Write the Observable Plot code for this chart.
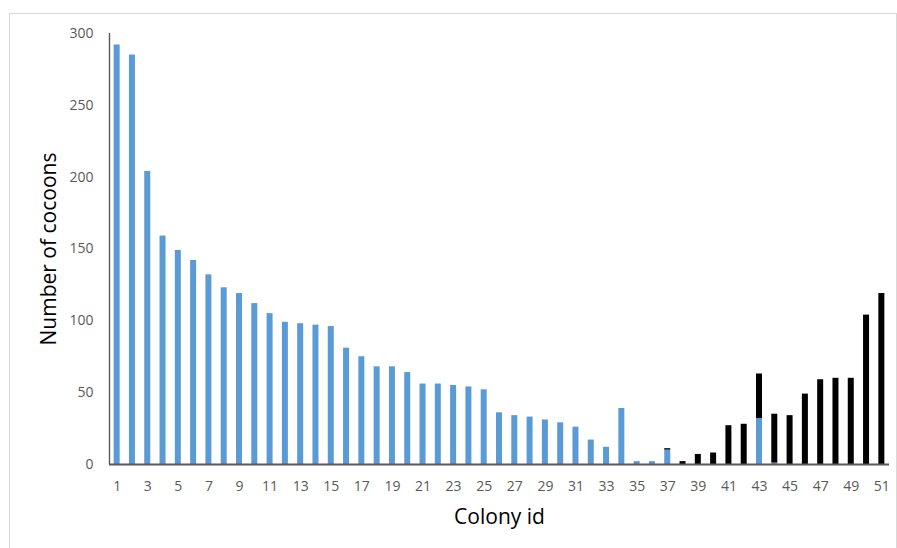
<!DOCTYPE html>
<html>
<head>
<meta charset="utf-8">
<script src="https://cdn.jsdelivr.net/npm/d3@7"></script>
<script src="https://cdn.jsdelivr.net/npm/@observablehq/plot@0.6"></script>
<style>
  html, body { margin: 0; padding: 0; background: #ffffff; overflow: hidden; }
  #wrap { position: relative; width: 897px; height: 548px; }
  #border { position: absolute; left: 9px; top: 13px; width: 886px; height: 600px;
            border: 1px solid #d9d9d9; pointer-events: none; }
  #chart { position: absolute; left: 0; top: 0; }
</style>
</head>
<body>
<div id="wrap"><div id="border"></div><div id="chart"></div></div>
<script>
const colonies = [1,2,3,4,5,6,7,8,9,10,11,12,13,14,15,16,17,18,19,20,21,22,23,24,25,26,27,28,29,30,31,32,33,34,35,36,37,38,39,40,41,42,43,44,45,46,47,48,49,50,51];
const blueCounts = [292,285,204,159,149,142,132,123,119,112,105,99,98,97,96,81,75,68,68,64,56,56,55,54,52,36,34,33,31,29,26,17,12,39,2,2,10,0,0,0,0,0,32,1,0,0,0,0,0,0,0];
const blackCounts = [0,0,0,0,0,0,0,0,0,0,0,0,0,0,0,0,0,0,0,0,0,0,0,0,0,0,0,0,0,0,0,0,0,0,0,0,1,2,7,8,27,28,31,34,34,49,59,60,60,104,119];
const seriesNames = ["Series 1", "Series 2"];
const seriesColors = ["#5b9bd5", "#000000"];
const yTicks = [0,50,100,150,200,250,300];
const xTicks = [1,3,5,7,9,11,13,15,17,19,21,23,25,27,29,31,33,35,37,39,41,43,45,47,49,51];
const yTitle = "Number of cocoons";
const xTitle = "Colony id";

const table = colonies.flatMap((c, i) => [
  {colony: c, series: seriesNames[0], count: blueCounts[i]},
  {colony: c, series: seriesNames[1], count: blackCounts[i]}
]);

const W = 897, H = 548, ML = 109, MR = 8;
const step = (W - ML - MR) / colonies.length;
const barInset = (step - 6) / 2;

const chart = Plot.plot({
  width: W,
  height: H,
  marginLeft: ML,
  marginRight: MR,
  marginTop: 33,
  marginBottom: 84,
  style: {fontFamily: "'Open Sans', sans-serif", fontSize: "14px", color: "#595959", background: "transparent"},
  x: {type: "band", domain: colonies, padding: 0, round: false},
  y: {domain: [0, 300]},
  color: {domain: seriesNames, range: seriesColors},
  marks: [
    Plot.barY(table, {x: "colony", y: "count", fill: "series", insetLeft: barInset, insetRight: barInset}),
    Plot.axisX({ticks: xTicks, tickSize: 0, tickPadding: 17, label: null, fontSize: 14}),
    Plot.axisY({ticks: yTicks, tickSize: 0, tickPadding: 16, label: null, fontSize: 14}),
    Plot.ruleX([colonies[0]], {y1: 0, y2: 300, dx: -step / 2, stroke: "#595959", strokeWidth: 1.4}),
    Plot.ruleY([0], {stroke: "#595959", strokeWidth: 2}),
    Plot.text([yTitle], {frameAnchor: "left", dx: -54, rotate: -90, textAnchor: "middle", lineAnchor: "bottom", fill: "#000000", fontSize: 21}),
    Plot.text([xTitle], {frameAnchor: "bottom", dy: 59, textAnchor: "middle", lineAnchor: "bottom", fill: "#000000", fontSize: 21})
  ]
});
document.getElementById("chart").appendChild(chart);
</script>
</body>
</html>
